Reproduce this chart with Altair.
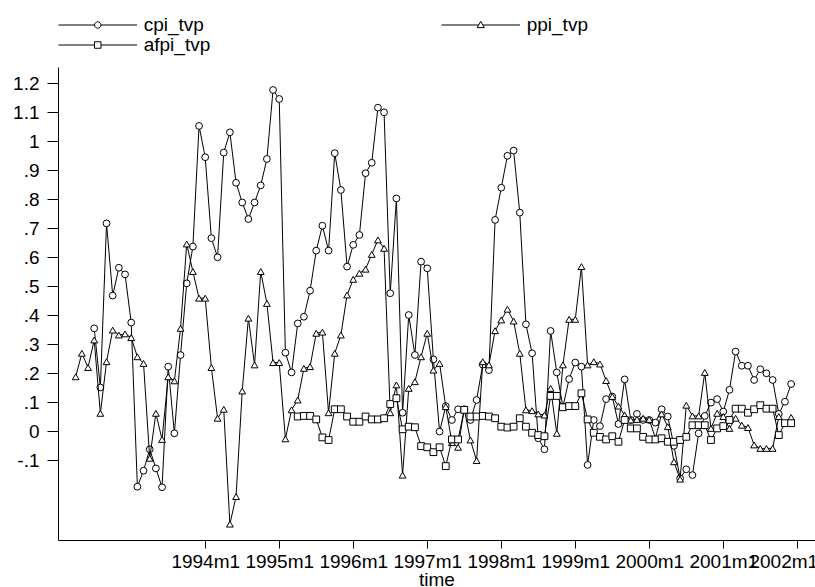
import altair as alt
import pandas as pd

# ---------------- data ----------------
series_names = ["cpi_tvp", "ppi_tvp", "afpi_tvp"]
first_month = 3  # months after 1992m1 of the first observation (1992m4)

ppi_tvp = [
    0.188, 0.269, 0.220, 0.315, 0.062, 0.240, 0.349, 0.332, 0.336, 0.323, 0.257, 0.234,
    -0.093, 0.062, -0.028, 0.188, 0.174, 0.355, 0.646, 0.551, 0.459,
    0.459, 0.220, 0.045, 0.076, -0.320, -0.225, 0.139, 0.390, 0.229, 0.551, 0.441, 0.237,
    0.237, -0.026, 0.074, 0.108, 0.217, 0.223, 0.338, 0.342, 0.064, 0.269, 0.332, 0.470,
    0.524, 0.545, 0.559, 0.610, 0.660, 0.631, 0.064, 0.160, -0.151, 0.148, 0.171, 0.257,
    0.338, 0.211, 0.234, 0.085, -0.039, -0.055, 0.076, -0.030, -0.101, 0.240, 0.229, 0.347,
    0.384, 0.421, 0.380, 0.269, 0.074, 0.071, 0.060, 0.056, 0.148, -0.007, 0.229, 0.386,
    0.386, 0.568, 0.229, 0.240, 0.232, 0.175, 0.120, 0.087, 0.056, 0.039, 0.041, 0.045,
    0.041, -0.024, 0.060, 0.016, -0.105, -0.165, 0.090, 0.053, 0.053, 0.203, 0.010, 0.062,
    0.051, 0.010, 0.045, 0.021, 0.013, -0.047, -0.059, -0.059, -0.059, 0.051, 0.028, 0.048,
]

cpi_tvp = [None, None, None] + [
    0.355, 0.151, 0.717, 0.468, 0.564, 0.541, 0.375, -0.191, -0.136,
    -0.062, -0.128, -0.193, 0.223, -0.007, 0.263, 0.510, 0.637, 1.053,
    0.945, 0.666, 0.600, 0.961, 1.031, 0.857, 0.789, 0.732, 0.789, 0.848, 0.939, 1.177,
    1.146, 0.271, 0.203, 0.372, 0.395, 0.485, 0.623, 0.709, 0.623, 0.959, 0.832, 0.568,
    0.643, 0.677, 0.890, 0.926, 1.116, 1.100, 0.476, 0.803, 0.064, 0.401, 0.263, 0.585,
    0.562, 0.248, -0.001, 0.087, 0.039, 0.076, 0.076, 0.039, 0.108, 0.230, 0.211, 0.729,
    0.840, 0.950, 0.968, 0.754, 0.369, 0.269, -0.024, -0.062, 0.346, 0.203, 0.085, 0.180,
    0.237, 0.223, -0.116, 0.039, 0.018, 0.111, 0.120, 0.025, 0.179, 0.039, 0.060, 0.039,
    0.039, 0.030, 0.076, 0.051, -0.050, -0.162, -0.131, -0.151, -0.007, 0.053, 0.099, 0.111,
    0.068, 0.143, 0.275, 0.226, 0.226, 0.177, 0.214, 0.200, 0.177, 0.060, 0.102, 0.163,
]

afpi_tvp = [None] * 36 + [
    0.051, 0.053, 0.053, 0.041, -0.021, -0.030, 0.076, 0.076, 0.051,
    0.033, 0.033, 0.051, 0.041, 0.041, 0.045, 0.094, 0.114, 0.007, 0.016, 0.014, -0.051,
    -0.055, -0.072, -0.055, -0.120, -0.028, -0.028, 0.074, 0.051, 0.051, 0.053, 0.051, 0.045,
    0.016, 0.013, 0.016, 0.045, 0.016, -0.005, -0.013, -0.017, 0.122, 0.122, 0.083, 0.087,
    0.087, 0.131, 0.041, -0.005, -0.019, -0.028, -0.017, -0.036, 0.039, 0.010, 0.010, -0.019,
    -0.028, -0.028, -0.024, -0.036, -0.036, -0.030, -0.019, 0.021, 0.021, 0.021, -0.030, 0.010,
    0.018, 0.039, 0.078, 0.078, 0.064, 0.076, 0.090, 0.078, 0.078, -0.013, 0.028, 0.028,
]

x_tick_values = [24, 36, 48, 60, 72, 84, 96, 108, 120]   # months after 1992m1
x_tick_labels = ["1994m1", "1995m1", "1996m1", "1997m1", "1998m1",
                 "1999m1", "2000m1", "2001m1", "2002m1"]
y_tick_values = [-0.1, 0.0, 0.1, 0.2, 0.3, 0.4, 0.5, 0.6, 0.7, 0.8, 0.9, 1.0, 1.1, 1.2]

# ---------------- table ----------------
rows = []
for name, vals in zip(series_names, [cpi_tvp, ppi_tvp, afpi_tvp]):
    for i, v in enumerate(vals):
        if v is not None:
            rows.append({"time": first_month + i, "series": name, "value": v})
df = pd.DataFrame(rows)

FONT = "Liberation Sans"
FS = 19

label_map = "{" + ",".join(f"'{v}':'{l}'" for v, l in zip(x_tick_values, x_tick_labels)) + "}"

x_enc = alt.X(
    "time:Q",
    scale=alt.Scale(domain=[0.13, 122.87], nice=False, zero=False),
    axis=alt.Axis(
        values=x_tick_values,
        labelExpr=label_map + "[''+datum.value]",
        title="time",
        grid=False,
        labelOverlap=False,
        labelFlush=False,
        tickSize=8,
        labelPadding=4,
        titlePadding=-1,
        labelOffset={"condition": {"test": "datum.value == 120", "value": -14}, "value": 0},
    ),
)
y_enc = alt.Y(
    "value:Q",
    scale=alt.Scale(domain=[-0.3748, 1.2562], nice=False, zero=False),
    axis=alt.Axis(
        values=y_tick_values,
        labelExpr="abs(datum.value) < 1e-9 ? '0' : (datum.value < 0 ? '-' : '') + "
                  "replace(format(abs(datum.value), '.1~f'), '0.', '.')",
        title=None,
        grid=False,
        tickSize=11,
        labelPadding=8,
        labelBaseline="middle",
    ),
)

shape_scale = alt.Scale(domain=series_names, range=["circle", "triangle-up", "square"])

data_layers = []
for name in series_names:
    base = alt.Chart(df).transform_filter(alt.datum.series == name)
    data_layers.append(
        base.mark_line(color="black", strokeWidth=1).encode(
            x=x_enc, y=y_enc, detail="series:N", order="time:Q"
        )
    )
    data_layers.append(
        base.mark_point(filled=True, fill="white", stroke="black", strokeWidth=1,
                        size=46, opacity=1).encode(
            x=x_enc, y=y_enc,
            shape=alt.Shape("series:N", scale=shape_scale, legend=None),
        )
    )
data_chart = alt.layer(*data_layers)

# legend keys: a line with the series marker in its middle.
# symbol size 361 -> 9.5 px per path unit; symbol centre sits 10 px into the entry.
U = 9.5
x0, x1 = -1.0, (79 - 10) / U
cx = (39.75 - 10) / U
rc = 3.2 / U
tw, tt, tb, tc = 3.6 / U, -3.6 / U, 2.6 / U, 2.1 / U
rs = 3.25 / U


def f(v):
    return f"{v:.4f}"


key_paths = {
    "cpi_tvp": (f"M{f(x0)},0H{f(cx - rc)}M{f(cx + rc)},0H{f(x1)}"
                f"M{f(cx + rc)},0A{f(rc)},{f(rc)},0,1,1,{f(cx - rc)},0"
                f"A{f(rc)},{f(rc)},0,1,1,{f(cx + rc)},0Z"),
    "ppi_tvp": (f"M{f(x0)},0H{f(cx - tc)}M{f(cx + tc)},0H{f(x1)}"
                f"M{f(cx)},{f(tt)}L{f(cx + tw)},{f(tb)}L{f(cx - tw)},{f(tb)}Z"),
    "afpi_tvp": (f"M{f(x0)},0H{f(cx - rs)}M{f(cx + rs)},0H{f(x1)}"
                 f"M{f(cx - rs)},{f(-rs)}H{f(cx + rs)}V{f(rs)}H{f(cx - rs)}Z"),
}
legend_order = ["cpi_tvp", "afpi_tvp", "ppi_tvp"]  # column-major fill of a 2-column legend

legend_chart = (
    alt.Chart(df)
    .transform_filter("datum.value > 99")
    .mark_point(filled=False, color="black", strokeWidth=1, opacity=1, size=361)
    .encode(
        x=x_enc,
        y=y_enc,
        shape=alt.Shape(
            "series:N",
            scale=alt.Scale(domain=legend_order, range=[key_paths[s] for s in legend_order]),
            legend=alt.Legend(
                title=None,
                orient="none",
                legendX=0,
                legendY=-52,
                columns=2,
                columnPadding=228,
                rowPadding=-1,
                symbolSize=361,
                symbolStrokeWidth=1,
                symbolStrokeColor="black",
                symbolOpacity=1,
                labelFont=FONT,
                labelFontSize=FS,
                labelColor="black",
                labelOffset=65.7,
                labelLimit=400,
                padding=0,
            ),
        ),
    )
)

chart = (
    alt.layer(data_chart, legend_chart)
    .resolve_scale(shape="independent")
    .properties(
        width=757,
        height=473,
        autosize=alt.AutoSizeParams(type="none"),
        padding={"left": 58, "top": 67, "right": 0, "bottom": 47},
        background="white",
    )
    .configure_view(stroke=None)
    .configure_axis(
        domainColor="black",
        domainWidth=1,
        tickColor="black",
        tickWidth=1,
        labelColor="black",
        labelFont=FONT,
        labelFontSize=FS,
        titleFont=FONT,
        titleFontSize=FS,
        titleFontWeight="normal",
        titleColor="black",
    )
)

chart.save("out.html", embed_options={"renderer": "svg", "actions": False})
